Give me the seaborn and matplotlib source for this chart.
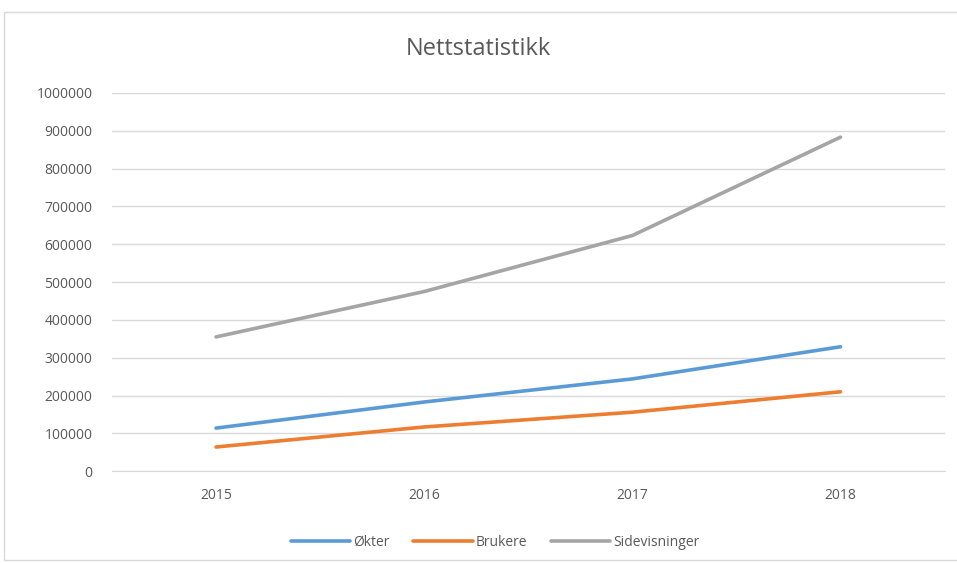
import pandas as pd
import matplotlib.pyplot as plt
import seaborn as sns
from matplotlib.patches import Rectangle

years = ["2015", "2016", "2017", "2018"]
okter = [114000, 183000, 244000, 329000]
brukere = [64000, 117000, 156000, 210000]
sidevisninger = [355000, 475000, 623000, 883000]

series = ["Økter", "Brukere", "Sidevisninger"]
colors = ["#5B9BD5", "#ED7D31", "#A5A5A5"]

df = pd.DataFrame({
    "År": years * 3,
    "Verdi": okter + brukere + sidevisninger,
    "Serie": [s for s in series for _ in years],
})

sns.set_style("white")
plt.rcParams["font.family"] = ["Open Sans", "DejaVu Sans"]

fig = plt.figure(figsize=(9.57, 5.63), dpi=100)
ax = fig.add_axes([0.117, 0.163, 0.87, 0.672])

sns.lineplot(data=df, x="År", y="Verdi", hue="Serie", hue_order=series,
             palette=colors, linewidth=2.6, ax=ax, sort=False)

ax.set_xlim(-0.5, 3.5)
ax.set_ylim(0, 1000000)
ax.set_yticks(range(0, 1000001, 100000))
ax.set_yticklabels([str(v) for v in range(0, 1000001, 100000)])
ax.yaxis.grid(True, color="#D9D9D9", linewidth=1)
ax.set_axisbelow(True)
for side in ["top", "right", "left"]:
    ax.spines[side].set_visible(False)
ax.spines["bottom"].set_color("#D9D9D9")
ax.tick_params(axis="both", length=0, labelsize=10, colors="#595959")
ax.tick_params(axis="y", pad=14)
ax.tick_params(axis="x", pad=12)
ax.set_xlabel("")
ax.set_ylabel("")

fig.text(0.5, 0.913, "Nettstatistikk", ha="center", va="center",
         fontsize=17, color="#595959")

handles, labels = ax.get_legend_handles_labels()
ax.legend(handles, labels, loc="upper center", bbox_to_anchor=(0.46, -0.135),
          ncol=3, frameon=False, fontsize=10, labelcolor="#595959",
          handlelength=4.3, columnspacing=1.7, handletextpad=0.2)

fig.patches.append(Rectangle((0.004, 0.005), 1.5, 0.974, transform=fig.transFigure,
                             fill=False, edgecolor="#D9D9D9", linewidth=1))

fig.savefig("out.png", dpi=100)
